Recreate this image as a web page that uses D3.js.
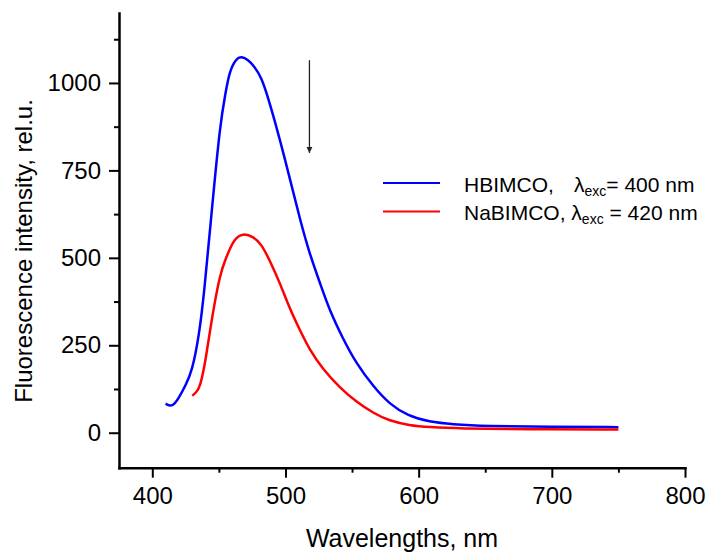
<!DOCTYPE html>
<html>
<head>
<meta charset="utf-8">
<script src="https://cdn.jsdelivr.net/npm/d3@7"></script>
<style>
body { margin: 0; background: #fff; }
text { font-family: Arial, "Liberation Sans", sans-serif; fill: #000; }
</style>
</head>
<body>
<div id="mydiv"></div>
<script>

var blueWl = [410, 415, 420, 425, 430, 435, 439, 445, 451, 455, 458, 463, 467, 472, 476, 482, 488, 496, 504, 511, 518, 526, 533, 543, 553, 566, 578, 592, 608, 625, 650, 700, 750];
var blueVal = [83, 73, 100, 135, 178, 275, 400, 650, 885, 972, 1034, 1070, 1076, 1066, 1050, 1017, 945, 836, 716, 608, 513, 427, 351, 270, 199, 132, 82, 48, 31, 24, 19, 17, 16];

var redWl = [430, 433, 436, 440, 445, 451, 455, 461, 468, 476, 482, 488, 496, 503, 511, 518, 528, 541, 553, 566, 578, 593, 608, 630, 680, 750];
var redVal = [106, 115, 132, 205, 335, 456, 496, 553, 571, 560, 539, 494, 427, 356, 292, 238, 182, 128, 89, 56, 34, 21, 16, 12, 10, 9];

var xTicks = [400, 500, 600, 700, 800];
var xMinor = [450, 550, 650, 750];
var yTicks = [0, 250, 500, 750, 1000];
var yMinor = [125, 375, 625, 875, 1125];

var series = [
	{"name": "HBIMCO,", "lam": "= 400 nm", "color": "#0000ff", "wl": blueWl, "val": blueVal},
	{"name": "NaBIMCO, ", "lam": " = 420 nm", "color": "#ff0000", "wl": redWl, "val": redVal}
];

var svg = d3.select("#mydiv")
	.append("svg")
	.attr("width", 709)
	.attr("height", 553);

var x = d3.scaleLinear().domain([375, 800]).range([119, 685]);
var y = d3.scaleLinear().domain([-100, 1200]).range([467.7, 13]);

// minor ticks first, then major axes on top
svg.append("g")
	.attr("transform", "translate(0,467.7)")
	.call(d3.axisBottom(x).tickValues(xMinor).tickSize(5).tickFormat("").tickSizeOuter(0))
	.call(function(g){ g.select(".domain").remove(); })
	.selectAll("line").attr("stroke-width", 2);

svg.append("g")
	.attr("transform", "translate(119,0)")
	.call(d3.axisLeft(y).tickValues(yMinor).tickSize(5).tickFormat("").tickSizeOuter(0))
	.call(function(g){ g.select(".domain").remove(); })
	.selectAll("line").attr("stroke-width", 2);

var xAxis = svg.append("g")
	.attr("transform", "translate(0,467.7)")
	.call(d3.axisBottom(x).tickValues(xTicks).tickFormat(d3.format("d")).tickSize(10).tickPadding(9).tickSizeOuter(0));

var yAxis = svg.append("g")
	.attr("transform", "translate(119,0)")
	.call(d3.axisLeft(y).tickValues(yTicks).tickFormat(d3.format("d")).tickSize(10).tickPadding(8).tickSizeOuter(0));

[xAxis, yAxis].forEach(function(g){
	g.select(".domain").attr("stroke-width", 2.5).attr("stroke-linecap", "square");
	g.selectAll(".tick line").attr("stroke-width", 2);
	g.selectAll(".tick text").style("font-size", "24px").style("font-family", "Arial, 'Liberation Sans', sans-serif");
});

var line = d3.line()
	.x(function(d){ return x(d[0]); })
	.y(function(d){ return y(d[1]); })
	.curve(d3.curveBasis);

svg.selectAll(".curve")
	.data(series)
	.enter()
	.append("path")
	.attr("class", "curve")
	.attr("d", function(s){
		return line(s.wl.map(function(w, i){ return [w, s.val[i]]; }));
	})
	.attr("fill", "none")
	.attr("stroke", function(s){ return s.color; })
	.attr("stroke-width", 2.5);

// legend
var leg = svg.selectAll(".leg")
	.data(series)
	.enter()
	.append("g")
	.attr("class", "leg")
	.attr("transform", function(d, i){ return "translate(0," + (i * 28.5) + ")"; });

leg.append("line")
	.attr("x1", 383).attr("x2", 440)
	.attr("y1", 183).attr("y2", 183)
	.attr("stroke", function(d){ return d.color; })
	.attr("stroke-width", 2);

var lt = leg.append("text")
	.attr("x", 464)
	.attr("y", 191.5)
	.style("font-size", "21px");

lt.append("tspan").text(function(d){ return d.name; });
lt.append("tspan")
	.attr("x", function(d, i){ return i == 0 ? 574 : null; })
	.text("λ");
lt.append("tspan")
	.attr("dy", 4)
	.style("font-size", "14px")
	.text("exc");
lt.append("tspan")
	.attr("dy", -4)
	.text(function(d){ return d.lam; });

// arrow
svg.append("defs")
	.append("marker")
	.attr("id", "head")
	.attr("viewBox", "0 0 10 10")
	.attr("refX", 10).attr("refY", 5)
	.attr("markerWidth", 6).attr("markerHeight", 10)
	.attr("markerUnits", "userSpaceOnUse")
	.attr("orient", "auto")
	.append("path")
	.attr("d", "M0,0L10,5L0,10Z")
	.attr("fill", "#222");

svg.append("line")
	.attr("x1", x(518)).attr("x2", x(518))
	.attr("y1", y(1065)).attr("y2", y(800))
	.attr("stroke", "#222")
	.attr("stroke-width", 1.3)
	.attr("marker-end", "url(#head)");

// axis titles
svg.append("text")
	.attr("x", 402)
	.attr("y", 547)
	.attr("text-anchor", "middle")
	.style("font-size", "25px")
	.text("Wavelengths, nm");

svg.append("text")
	.attr("transform", "translate(32,251) rotate(-90)")
	.attr("text-anchor", "middle")
	.style("font-size", "24px")
	.text("Fluorescence intensity, rel.u.");

</script>
</body>
</html>
